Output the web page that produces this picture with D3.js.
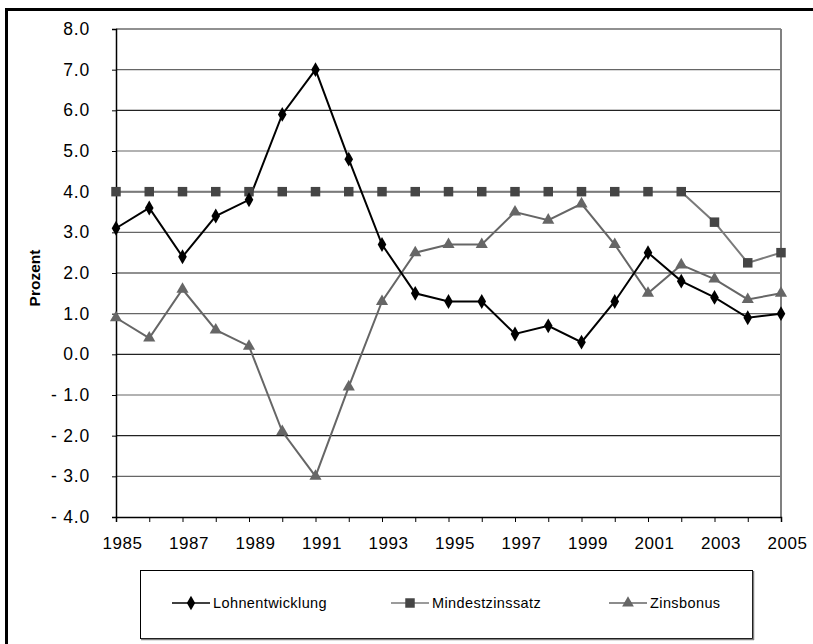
<!DOCTYPE html>
<html>
<head>
<meta charset="utf-8">
<script src="https://cdn.jsdelivr.net/npm/d3@7"></script>
<style>
  body { margin: 0; background: #fff; }
  svg { display: block; font-family: "Liberation Sans", Arial, sans-serif; }
</style>
</head>
<body>
<div id="chart"></div>
<script>
// data
var years = [1985, 1986, 1987, 1988, 1989, 1990, 1991, 1992, 1993, 1994, 1995,
             1996, 1997, 1998, 1999, 2000, 2001, 2002, 2003, 2004, 2005];
var lohn = [3.1, 3.6, 2.4, 3.4, 3.8, 5.9, 7.0, 4.8, 2.7, 1.5, 1.3,
            1.3, 0.5, 0.7, 0.3, 1.3, 2.5, 1.8, 1.4, 0.9, 1.0];
var mindest = [4.0, 4.0, 4.0, 4.0, 4.0, 4.0, 4.0, 4.0, 4.0, 4.0, 4.0,
               4.0, 4.0, 4.0, 4.0, 4.0, 4.0, 4.0, 3.25, 2.25, 2.5];
var zins = [0.9, 0.4, 1.6, 0.6, 0.2, -1.9, -3.0, -0.8, 1.3, 2.5, 2.7,
            2.7, 3.5, 3.3, 3.7, 2.7, 1.5, 2.2, 1.85, 1.35, 1.5];
var yTicks = [-4, -3, -2, -1, 0, 1, 2, 3, 4, 5, 6, 7, 8];
var xLabels = [1985, 1987, 1989, 1991, 1993, 1995, 1997, 1999, 2001, 2003, 2005];

var series = [
  {name: "Lohnentwicklung", values: lohn, line: "#000", fill: "#000", symbol: d3.symbolDiamond},
  {name: "Mindestzinssatz", values: mindest, line: "#7a7a7a", fill: "#454545", symbol: d3.symbolSquare},
  {name: "Zinsbonus", values: zins, line: "#666", fill: "#666", symbol: d3.symbolTriangle}
];

var W = 813, H = 644;
var margin = {top: 29, right: 32, bottom: 127, left: 116};

var svg = d3.select("#chart").append("svg")
  .attr("width", W)
  .attr("height", H);

// outer frame
svg.append("rect")
  .attr("x", 6.5).attr("y", 9.5)
  .attr("width", W + 20).attr("height", H + 20)
  .attr("fill", "none").attr("stroke", "#000").attr("stroke-width", 3);

var x = d3.scaleLinear().domain([1985, 2005]).range([margin.left, W - margin.right]);
var y = d3.scaleLinear().domain([-4, 8]).range([H - margin.bottom, margin.top]);

// grid lines
svg.append("g").selectAll("line")
  .data(yTicks.filter(function(d) { return d > -4; }))
  .enter().append("line")
  .attr("x1", x(1985)).attr("x2", x(2005))
  .attr("y1", function(d) { return y(d); })
  .attr("y2", function(d) { return y(d); })
  .attr("stroke", function(d, i) { return i % 2 ? "#222" : "#666"; })
  .attr("stroke-width", 1.2);

// right border of plot area
svg.append("line")
  .attr("x1", x(2005)).attr("x2", x(2005))
  .attr("y1", y(8)).attr("y2", y(-4))
  .attr("stroke", "#808080").attr("stroke-width", 2);

// y axis
var yAxis = svg.append("g")
  .attr("transform", "translate(" + x(1985) + ",0)")
  .call(d3.axisLeft(y).tickValues(yTicks).tickSize(4).tickPadding(22)
    .tickFormat(function(d) { return d < 0 ? "- " + (-d).toFixed(1) : d.toFixed(1); }));
yAxis.select(".domain").attr("stroke", "#000").attr("stroke-width", 1.5);
yAxis.selectAll(".tick line").attr("stroke", "#000");
yAxis.selectAll("text").attr("font-size", 17.5).attr("letter-spacing", 0.8).attr("fill", "#000")
  .attr("font-family", "Liberation Sans, Arial, sans-serif");

// x axis
var xAxis = svg.append("g")
  .attr("transform", "translate(0," + y(-4) + ")")
  .call(d3.axisBottom(x).tickValues(years).tickSize(5).tickPadding(15)
    .tickFormat(function(d) { return xLabels.indexOf(d) >= 0 ? d : ""; }));
xAxis.select(".domain").attr("stroke", "#000").attr("stroke-width", 1.5);
xAxis.selectAll(".tick line").attr("stroke", "#000");
xAxis.selectAll("text").attr("font-size", 17).attr("letter-spacing", 0.5).attr("dx", 6)
  .attr("fill", "#000")
  .attr("font-family", "Liberation Sans, Arial, sans-serif");

// y title
svg.append("text")
  .attr("transform", "translate(40,278) rotate(-90)")
  .attr("text-anchor", "middle")
  .attr("font-size", 15.5).attr("font-weight", "bold")
  .text("Prozent");

// lines and markers
var line = d3.line()
  .x(function(d, i) { return x(years[i]); })
  .y(function(d) { return y(d); });

series.slice().reverse().forEach(function(s) {
  svg.append("path")
    .datum(s.values)
    .attr("d", line)
    .attr("fill", "none")
    .attr("stroke", s.line)
    .attr("stroke-width", 2);
});
series.slice().reverse().forEach(function(s) {
  var sym = d3.symbol().type(s.symbol).size(s.symbol === d3.symbolSquare ? 90 : 64);
  svg.append("g").selectAll("path")
    .data(s.values)
    .enter().append("path")
    .attr("d", sym)
    .attr("transform", function(d, i) {
      return "translate(" + x(years[i]) + "," + y(d) + ")";
    })
    .attr("fill", s.fill);
});

// legend
var legend = svg.append("g");
legend.append("rect")
  .attr("x", 140.5).attr("y", 570.5)
  .attr("width", 612).attr("height", 68)
  .attr("fill", "#fff").attr("stroke", "#000").attr("stroke-width", 1);
legend.append("line")
  .attr("x1", 141).attr("x2", 754).attr("y1", 639.5).attr("y2", 639.5)
  .attr("stroke", "#808080").attr("stroke-width", 1.5);
legend.append("line")
  .attr("x1", 753.5).attr("x2", 753.5).attr("y1", 571).attr("y2", 640)
  .attr("stroke", "#808080").attr("stroke-width", 1.5);

var legX = [172, 391, 609];
series.forEach(function(s, i) {
  var g = legend.append("g").attr("transform", "translate(" + legX[i] + ",603)");
  g.append("line").attr("x1", 0).attr("x2", 38).attr("y1", 0).attr("y2", 0)
    .attr("stroke", s.line).attr("stroke-width", 1.5);
  g.append("path")
    .attr("d", d3.symbol().type(s.symbol).size(s.symbol === d3.symbolSquare ? 90 : 60))
    .attr("transform", "translate(19,0)")
    .attr("fill", s.fill);
  g.append("text")
    .attr("x", 41).attr("y", 5)
    .attr("font-size", 14.5)
    .attr("letter-spacing", 0.4)
    .text(s.name);
});
</script>
</body>
</html>
